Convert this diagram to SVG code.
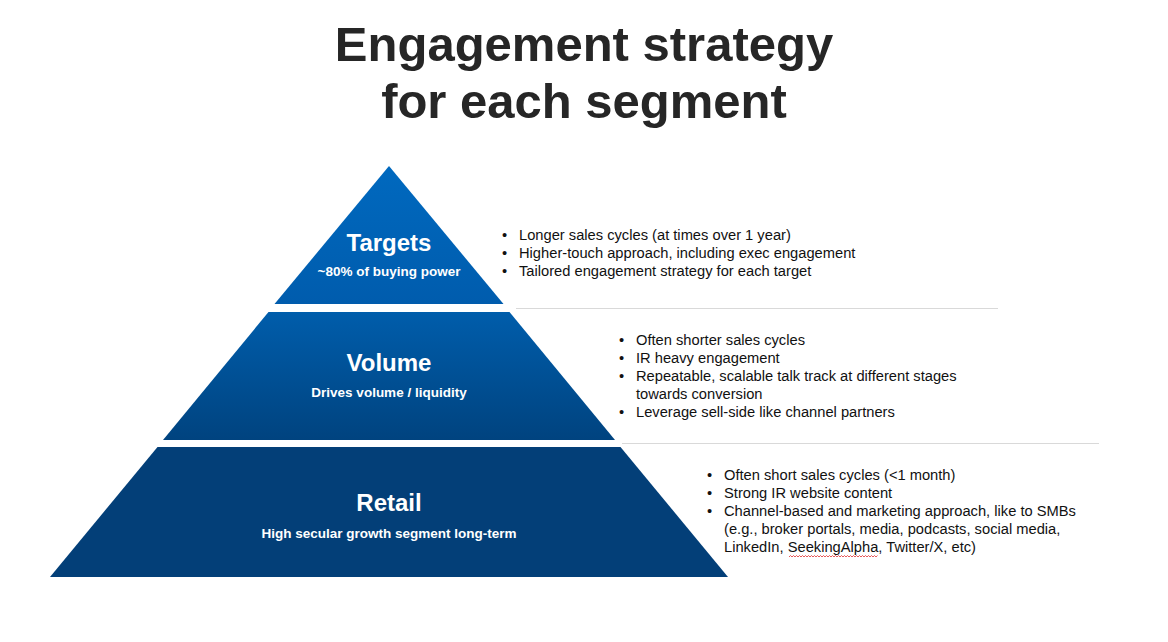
<svg xmlns="http://www.w3.org/2000/svg" width="1168" height="642" viewBox="0 0 1168 642">
<defs>
<linearGradient id="gTop" x1="0" y1="0" x2="0" y2="1"><stop offset="0" stop-color="#0069bf"/><stop offset="1" stop-color="#005cad"/></linearGradient>
<linearGradient id="gMid" x1="0" y1="0" x2="0" y2="1"><stop offset="0" stop-color="#005dab"/><stop offset="1" stop-color="#00437f"/></linearGradient>
<style>
.title{font-family:"Liberation Sans",Arial,sans-serif;font-weight:bold;font-size:49px;fill:#262626;text-anchor:middle}
.lvl{font-family:"Liberation Sans",Arial,sans-serif;font-weight:bold;font-size:24px;fill:#fff;text-anchor:middle}
.sub{font-family:"Liberation Sans",Arial,sans-serif;font-weight:bold;font-size:13.5px;fill:#fff;text-anchor:middle}
.b{font-family:"Liberation Sans",Arial,sans-serif;font-size:14.7px;fill:#111}
.sep{stroke:#d9d9d9;stroke-width:1}
</style>
</defs>
<rect width="1168" height="642" fill="#fff"/>
<g id="title">
<text class="title" x="584" y="61">Engagement strategy</text>
<text class="title" x="584" y="118">for each segment</text>
</g>
<g id="separators">
<line class="sep" x1="516" y1="308.5" x2="998" y2="308.5"/>
<line class="sep" x1="622" y1="443.5" x2="1099" y2="443.5"/>
</g>
<g id="targets">
<polygon points="389,166 503.5,304 274.5,304" fill="url(#gTop)"/>
<text class="lvl" x="389" y="251">Targets</text>
<text class="sub" x="389" y="276">~80% of buying power</text>
</g>
<g id="volume">
<polygon points="268.5,312 509.5,312 615,440 163,440" fill="url(#gMid)"/>
<text class="lvl" x="389" y="371">Volume</text>
<text class="sub" x="389" y="397">Drives volume / liquidity</text>
</g>
<g id="retail">
<polygon points="157.5,447 620.5,447 728,577 50,577" fill="#033f78"/>
<text class="lvl" x="389" y="511">Retail</text>
<text class="sub" x="389" y="538">High secular growth segment long-term</text>
</g>
<g id="targets-notes">
<text class="b" x="502" y="239.5">•</text><text class="b" x="519" y="239.5">Longer sales cycles (at times over 1 year)</text>
<text class="b" x="502" y="257.5">•</text><text class="b" x="519" y="257.5">Higher-touch approach, including exec engagement</text>
<text class="b" x="502" y="275.5">•</text><text class="b" x="519" y="275.5">Tailored engagement strategy for each target</text>
</g>
<g id="volume-notes">
<text class="b" x="619" y="345">•</text><text class="b" x="636" y="345">Often shorter sales cycles</text>
<text class="b" x="619" y="363">•</text><text class="b" x="636" y="363">IR heavy engagement</text>
<text class="b" x="619" y="381">•</text><text class="b" x="636" y="381">Repeatable, scalable talk track at different stages</text>
<text class="b" x="636" y="399">towards conversion</text>
<text class="b" x="619" y="417">•</text><text class="b" x="636" y="417">Leverage sell-side like channel partners</text>
</g>
<g id="retail-notes">
<text class="b" x="707" y="480">•</text><text class="b" x="724" y="480">Often short sales cycles (&lt;1 month)</text>
<text class="b" x="707" y="498">•</text><text class="b" x="724" y="498">Strong IR website content</text>
<text class="b" x="707" y="516">•</text><text class="b" x="724" y="516">Channel-based and marketing approach, like to SMBs</text>
<text class="b" x="724" y="534">(e.g., broker portals, media, podcasts, social media,</text>
<text class="b" x="724" y="552">LinkedIn, SeekingAlpha, Twitter/X, etc)</text>
<path d="M789,557 l1.5,-1.5 l1.5,1.5 l1.5,-1.5 l1.5,1.5 l1.5,-1.5 l1.5,1.5 l1.5,-1.5 l1.5,1.5 l1.5,-1.5 l1.5,1.5 l1.5,-1.5 l1.5,1.5 l1.5,-1.5 l1.5,1.5 l1.5,-1.5 l1.5,1.5 l1.5,-1.5 l1.5,1.5 l1.5,-1.5 l1.5,1.5 l1.5,-1.5 l1.5,1.5 l1.5,-1.5 l1.5,1.5 l1.5,-1.5 l1.5,1.5 l1.5,-1.5 l1.5,1.5 l1.5,-1.5 l1.5,1.5 l1.5,-1.5 l1.5,1.5 l1.5,-1.5 l1.5,1.5 l1.5,-1.5 l1.5,1.5 l1.5,-1.5 l1.5,1.5 l1.5,-1.5 l1.5,1.5 l1.5,-1.5 l1.5,1.5 l1.5,-1.5 l1.5,1.5 l1.5,-1.5 l1.5,1.5 l1.5,-1.5 l1.5,1.5 l1.5,-1.5 l1.5,1.5 l1.5,-1.5 l1.5,1.5 l1.5,-1.5 l1.5,1.5 l1.5,-1.5 l1.5,1.5 l1.5,-1.5 l1.5,1.5 l1.5,-1.5" fill="none" stroke="#e03030" stroke-width="0.8"/>
</g>
</svg>
